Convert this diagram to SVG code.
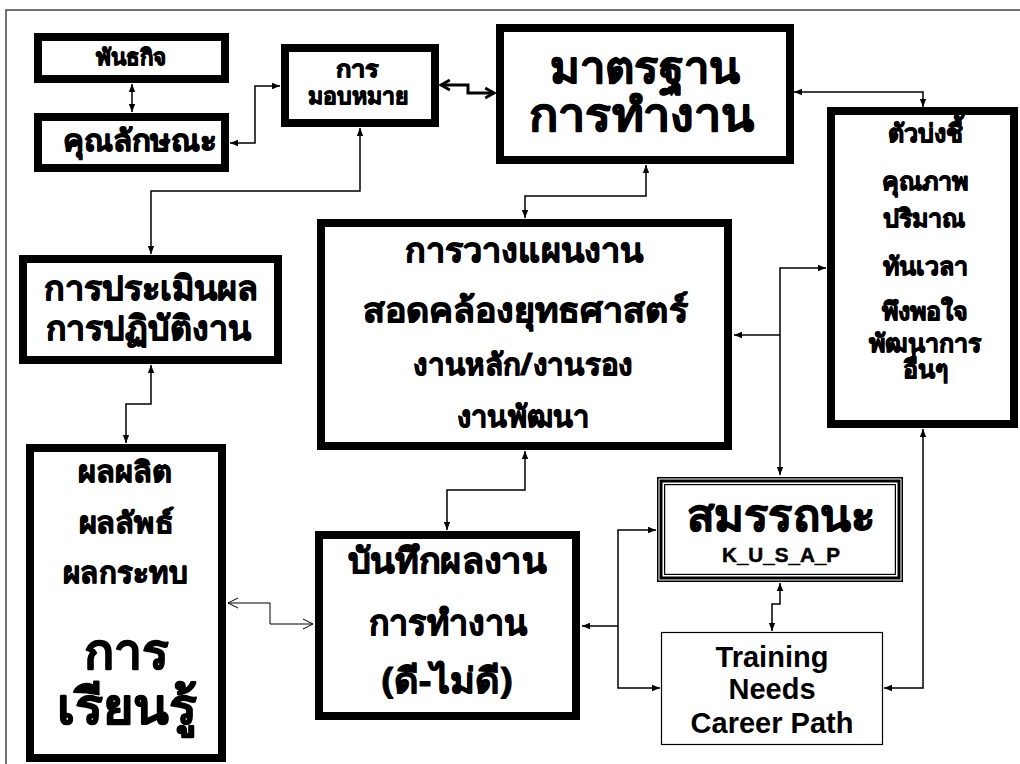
<svg xmlns="http://www.w3.org/2000/svg" width="1020" height="764" viewBox="0 0 1020 764">
<style>
.box{fill:#fff;stroke:#000;stroke-width:8}
.th{font-family:"Noto Sans","DejaVu Sans",sans-serif;font-weight:bold;text-anchor:middle;fill:#000;stroke:#000;stroke-width:1;paint-order:stroke;stroke-linejoin:round}
.en{font-family:"Liberation Sans",Arial,sans-serif;font-weight:bold;text-anchor:middle;fill:#000}
.ln{fill:none;stroke:#000;stroke-width:1.5}
.bi{marker-start:url(#ah);marker-end:url(#ah)}
.ee{marker-end:url(#ah)}
</style>
<defs>
<marker id="ah" viewBox="0 0 10 10" refX="10" refY="5" markerWidth="8" markerHeight="8" markerUnits="userSpaceOnUse" orient="auto-start-reverse"><path d="M0,1 L10,5 L0,9 z" fill="#000"/></marker>
<marker id="oh" viewBox="0 0 10 10" refX="9" refY="5" markerWidth="11" markerHeight="11" markerUnits="userSpaceOnUse" orient="auto-start-reverse" overflow="visible"><path d="M1,0.5 L9,5 L1,9.5" fill="none" stroke="#000" stroke-width="2.6"/></marker>
<marker id="th" viewBox="0 0 10 10" refX="10" refY="5" markerWidth="10" markerHeight="10" markerUnits="userSpaceOnUse" orient="auto-start-reverse" overflow="visible"><path d="M0,0 L10,5 L0,10" fill="none" stroke="#000" stroke-width="1"/></marker>
</defs>
<rect x="6" y="10" width="1100" height="900" fill="#fff" stroke="#444" stroke-width="1.5"/>

<g id="connectors">
<path class="ln bi" d="M132 84 V112"/>
<path class="ln bi" d="M230 143 H255 V86 H280"/>
<path class="ln bi" d="M360 128 V191 H151 V254"/>
<path d="M441 85 H468 V93 H494" fill="none" stroke="#000" stroke-width="3" marker-start="url(#oh)" marker-end="url(#oh)"/>
<path class="ln bi" d="M646 165 V196 H525 V218"/>
<path class="ln bi" d="M794 92 H923 V107"/>
<path class="ln bi" d="M826 268 H780 V475"/>
<path class="ln ee" d="M780 335 H734"/>
<path class="ln bi" d="M151 365 V404 H126 V443"/>
<path class="ln bi" d="M525 451 V490 H447 V530"/>
<path d="M228 603 H270 V624 H313" fill="none" stroke="#000" stroke-width="1" marker-start="url(#th)" marker-end="url(#th)"/>
<path class="ln ee" d="M618 626 H582"/>
<path class="ln bi" d="M656 530 H618 V688 H660"/>
<path class="ln bi" d="M780 583 V604 H772 V631"/>
<path class="ln bi" d="M923 429 V688 H884"/>
</g>

<g id="n-mission">
<rect class="box" x="38" y="37" width="187" height="42"/>
<text class="th" x="131" y="65" font-size="22" textLength="70" lengthAdjust="spacingAndGlyphs">พันธกิจ</text>
</g>
<g id="n-attribute">
<rect class="box" x="38" y="117" width="187" height="51"/>
<text class="th" x="140" y="151" font-size="30" textLength="154" lengthAdjust="spacingAndGlyphs">คุณลักษณะ</text>
</g>
<g id="n-assign">
<rect class="box" x="285" y="48" width="150" height="75"/>
<text class="th" x="357" y="77" font-size="23" textLength="43" lengthAdjust="spacingAndGlyphs">การ</text>
<text class="th" x="358" y="104" font-size="23" textLength="100" lengthAdjust="spacingAndGlyphs">มอบหมาย</text>
</g>
<g id="n-standard">
<rect class="box" x="500" y="28" width="290" height="132"/>
<text class="th" x="645" y="83" font-size="45" textLength="190" lengthAdjust="spacingAndGlyphs">มาตรฐาน</text>
<text class="th" x="641" y="131" font-size="46" textLength="225" lengthAdjust="spacingAndGlyphs">การทำงาน</text>
</g>
<g id="n-indicator">
<rect class="box" x="831" y="111" width="183" height="313"/>
<text class="th" x="925" y="142" font-size="25">ตัวบ่งชี้</text>
<text class="th" x="925" y="190" font-size="25">คุณภาพ</text>
<text class="th" x="924" y="227" font-size="25">ปริมาณ</text>
<text class="th" x="925" y="275" font-size="25">ทันเวลา</text>
<text class="th" x="925" y="320" font-size="25">พึงพอใจ</text>
<text class="th" x="925" y="352" font-size="25">พัฒนาการ</text>
<text class="th" x="925" y="378" font-size="25">อื่นๆ</text>
</g>
<g id="n-evaluation">
<rect class="box" x="23" y="259" width="255" height="101"/>
<text class="th" x="151" y="300" font-size="34" textLength="215" lengthAdjust="spacingAndGlyphs">การประเมินผล</text>
<text class="th" x="148" y="340" font-size="34" textLength="205" lengthAdjust="spacingAndGlyphs">การปฏิบัติงาน</text>
</g>
<g id="n-planning">
<rect class="box" x="321" y="223" width="407" height="223"/>
<text class="th" x="524" y="262" font-size="34" textLength="238" lengthAdjust="spacingAndGlyphs">การวางแผนงาน</text>
<text class="th" x="525" y="322" font-size="34" textLength="325" lengthAdjust="spacingAndGlyphs">สอดคล้องยุทธศาสตร์</text>
<text class="th" x="523" y="375" font-size="30" textLength="220" lengthAdjust="spacingAndGlyphs">งานหลัก/งานรอง</text>
<text class="th" x="523" y="427" font-size="30" textLength="133" lengthAdjust="spacingAndGlyphs">งานพัฒนา</text>
</g>
<g id="n-output">
<rect class="box" x="30" y="448" width="192" height="310"/>
<text class="th" x="125" y="482" font-size="29" textLength="94" lengthAdjust="spacingAndGlyphs">ผลผลิต</text>
<text class="th" x="126" y="533" font-size="29" textLength="95" lengthAdjust="spacingAndGlyphs">ผลลัพธ์</text>
<text class="th" x="125" y="583" font-size="29" textLength="124" lengthAdjust="spacingAndGlyphs">ผลกระทบ</text>
<text class="th" x="126" y="669" font-size="50" textLength="85" lengthAdjust="spacingAndGlyphs">การ</text>
<text class="th" x="127" y="724" font-size="50" textLength="140" lengthAdjust="spacingAndGlyphs">เรียนรู้</text>
</g>
<g id="n-record">
<rect class="box" x="319" y="535" width="257" height="181"/>
<text class="th" x="447" y="573" font-size="35" textLength="199" lengthAdjust="spacingAndGlyphs">บันทึกผลงาน</text>
<text class="th" x="448" y="635" font-size="35" textLength="159" lengthAdjust="spacingAndGlyphs">การทำงาน</text>
<text class="th" x="447" y="693" font-size="35" textLength="131" lengthAdjust="spacingAndGlyphs">(ดี-ไม่ดี)</text>
</g>
<g id="n-competency">
<rect x="657.75" y="477.75" width="244.5" height="103.5" fill="#fff" stroke="#000" stroke-width="1.5"/>
<rect x="661" y="481" width="238" height="97" fill="none" stroke="#000" stroke-width="3"/>
<rect x="664.6" y="484.6" width="230.8" height="89.8" fill="none" stroke="#000" stroke-width="1.2"/>
<text class="th" x="781" y="531" font-size="45" textLength="188" lengthAdjust="spacingAndGlyphs">สมรรถนะ</text>
<text class="en" x="781" y="562" font-size="20" textLength="118" lengthAdjust="spacingAndGlyphs" stroke="#000" stroke-width="0.5">K_U_S_A_P</text>
</g>
<g id="n-training">
<rect x="661.5" y="632.5" width="221" height="112" fill="#fff" stroke="#000" stroke-width="1.2"/>
<text class="en" x="772" y="667" font-size="29">Training</text>
<text class="en" x="772" y="699" font-size="29">Needs</text>
<text class="en" x="772" y="733" font-size="29">Career Path</text>
</g>
</svg>
